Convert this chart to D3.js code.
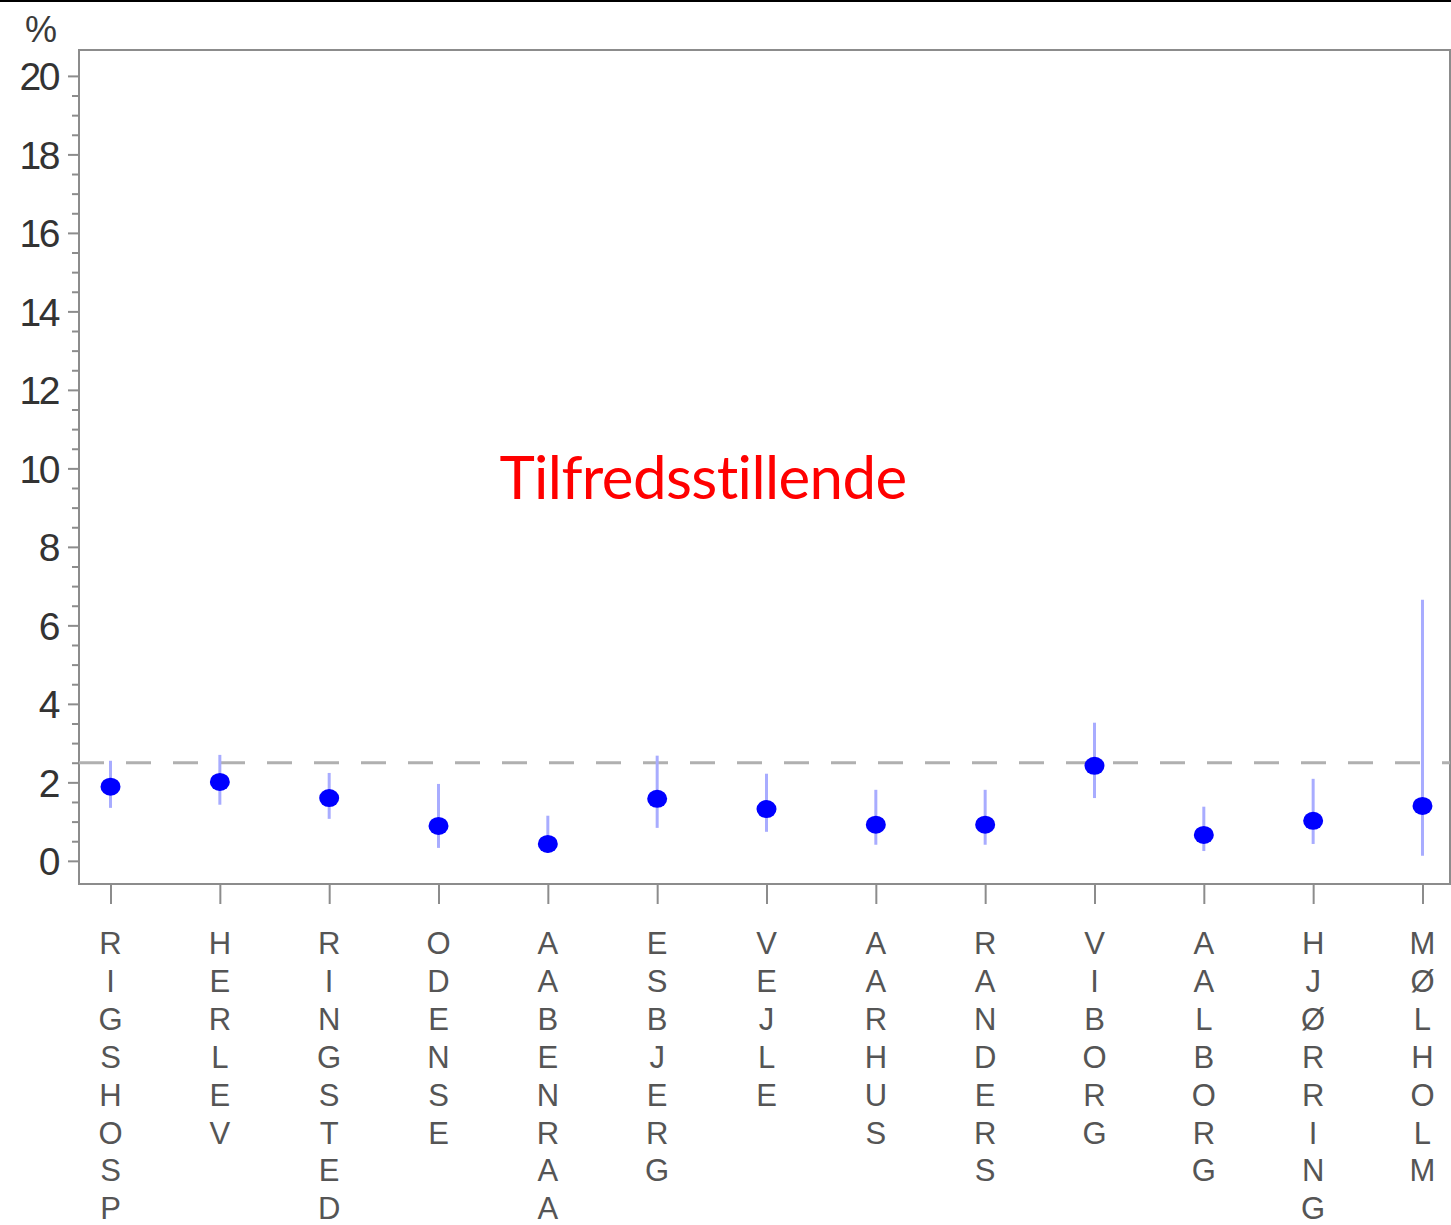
<!DOCTYPE html>
<html><head><meta charset="utf-8">
<script src="https://cdn.jsdelivr.net/npm/d3@7/dist/d3.min.js"></script>
<style>html,body{margin:0;padding:0;background:#fff;}svg{display:block;}</style>
</head><body>
<svg id="chart" width="1451" height="1225"></svg>
<script>
const categories = ["RIGSHOSP","HERLEV","RINGSTED","ODENSE","AABENRAA","ESBJERG","VEJLE","AARHUS","RANDERS","VIBORG","AALBORG","HJØRRING","MØLHOLM"];
const estimates = [1.89, 2.01, 1.60, 0.89, 0.43, 1.58, 1.32, 0.92, 0.92, 2.42, 0.66, 1.02, 1.40];
const lowerCI   = [1.35, 1.43, 1.07, 0.33, 0.20, 0.84, 0.74, 0.41, 0.41, 1.60, 0.25, 0.43, 0.13];
const upperCI   = [2.55, 2.70, 2.24, 1.96, 1.15, 2.68, 2.22, 1.81, 1.81, 3.52, 1.38, 2.09, 6.65];
const yTicks = [0, 2, 4, 6, 8, 10, 12, 14, 16, 18, 20];
const referenceLine = 2.5;
const titleText = "Tilfredsstillende";
const yUnit = "%";

const svg = d3.select("#chart");
const L = 79, R = 1450, T = 50, B = 884;

const x = d3.scalePoint().domain(categories).range([L + 2, R + 2]).padding(0.27);
const y = d3.scaleLinear().domain([-0.59, 20.66]).range([B, T]);

// top black line
svg.append("rect").attr("x",0).attr("y",0).attr("width",1451).attr("height",2).attr("fill","#000");

const axisCol = "#8c8c8c";
// frame
svg.append("rect").attr("x",L).attr("y",T).attr("width",R-L).attr("height",B-T)
  .attr("fill","none").attr("stroke",axisCol).attr("stroke-width",2);

// y axis minor ticks
const minor = d3.range(0, 20.01, 0.5).filter(v => v % 2 !== 0);
const yAxisMinor = d3.axisLeft(y).tickValues(minor).tickSize(7).tickFormat("");
const gMinor = svg.append("g").attr("transform",`translate(${L},0)`).call(yAxisMinor);
gMinor.select(".domain").remove();
gMinor.selectAll("line").attr("stroke",axisCol).attr("stroke-width",2);

const yAxis = d3.axisLeft(y).tickValues(yTicks).tickSize(11).tickPadding(10).tickFormat(d3.format("d"));
const gy = svg.append("g").attr("transform",`translate(${L},0)`).call(yAxis);
gy.select(".domain").remove();
gy.selectAll("line").attr("stroke",axisCol).attr("stroke-width",2);
gy.selectAll("text").attr("font-family","Liberation Sans, Arial, sans-serif").attr("font-size",39)
  .attr("fill","#333").attr("letter-spacing","-2.5").attr("dy","0.36em");

svg.append("text").attr("x",41).attr("y",42).attr("text-anchor","middle")
  .attr("font-family","Liberation Sans, Arial, sans-serif").attr("font-size",36).attr("fill","#3a3a3a").text(yUnit);

// x axis ticks
const xAxis = d3.axisBottom(x).tickSize(20).tickFormat("");
const gx = svg.append("g").attr("transform",`translate(0,${B})`).call(xAxis);
gx.select(".domain").remove();
gx.selectAll("line").attr("stroke",axisCol).attr("stroke-width",2);

// vertical labels
const lab = svg.append("g");
categories.forEach(c => {
  Array.from(c).forEach((ch, i) => {
    lab.append("text").attr("x", x(c)).attr("y", 954 + i*37.9).attr("text-anchor","middle")
      .attr("font-family","Liberation Sans, Arial, sans-serif").attr("font-size",31)
      .attr("fill","#555").text(ch);
  });
});

// reference line
svg.append("line").attr("x1",L).attr("x2",R).attr("y1",y(referenceLine)).attr("y2",y(referenceLine))
  .attr("stroke","#b0b0b0").attr("stroke-width",3).attr("stroke-dasharray","25,22");

// title
svg.append("text").attr("x",703).attr("y",499).attr("text-anchor","middle")
  .attr("font-family","Lato, sans-serif").attr("font-size",60).attr("fill","#ff0000")
  .attr("letter-spacing","-0.6").style("font-variant-ligatures","none").style("font-feature-settings","'liga' 0").text(titleText);

// error bars
svg.append("g").selectAll("line").data(categories).join("line")
  .attr("x1",d=>x(d)).attr("x2",d=>x(d))
  .attr("y1",(d,i)=>y(lowerCI[i])).attr("y2",(d,i)=>y(upperCI[i]))
  .attr("stroke","#a8acff").attr("stroke-width",3);

// points
svg.append("g").selectAll("ellipse").data(categories).join("ellipse")
  .attr("cx",d=>x(d)).attr("cy",(d,i)=>y(estimates[i]))
  .attr("rx",10).attr("ry",9).attr("fill","#0000ff");
</script>
</body></html>
